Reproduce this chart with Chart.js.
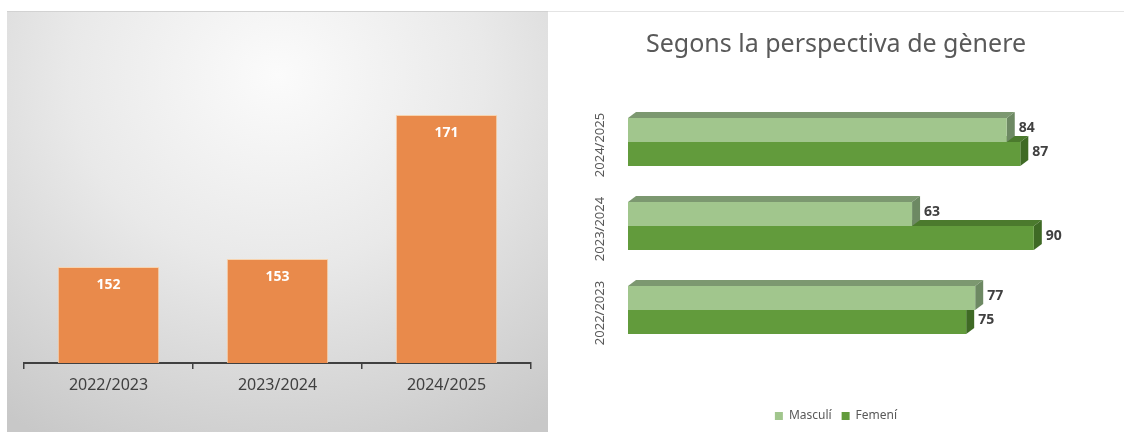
<!DOCTYPE html>
<html>
<head>
<meta charset="utf-8">
<script src="https://cdn.jsdelivr.net/npm/chart.js@4"></script>
<style>
  html, body { margin: 0; padding: 0; background: #fff; }
  #page { position: relative; width: 1124px; height: 432px; overflow: hidden; }
  #leftPanel {
    position: absolute; left: 7px; top: 11px; width: 541px; height: 421px;
    border-top: 1px solid #d2d2d2;
    background: radial-gradient(ellipse 85% 100% at 50% 15%, #fbfbfb 0%, #e9e9e9 45%, #c8c8c8 100%);
  }
  #topLine { position: absolute; left: 548px; top: 11px; width: 576px; height: 1px; background: #e4e4e4; }
  #leftChart { position: absolute; left: 0; top: 0; }
  #rightChart { position: absolute; left: 548px; top: 0; }
</style>
</head>
<body>
<div id="page">
  <div id="leftPanel"><canvas id="leftChart" width="541" height="420"></canvas></div>
  <div id="topLine"></div>
  <canvas id="rightChart" width="576" height="432"></canvas>
</div>
<script>
// Data
const categories = ['2022/2023', '2023/2024', '2024/2025'];
const totals = [152, 153, 171];
const masculi = [77, 63, 84];
const femeni = [75, 90, 87];
const seriesNames = ['Masculí', 'Femení'];
const chartTitle = 'Segons la perspectiva de gènere';

const FONT = "'Noto Sans', 'Open Sans', sans-serif";
Chart.defaults.font.family = FONT;

// Labels inside the top of the orange bars
const totalLabels = {
  id: 'totalLabels',
  afterDatasetsDraw(chart) {
    const ctx = chart.ctx;
    const meta = chart.getDatasetMeta(0);
    ctx.save();
    ctx.fillStyle = '#ffffff';
    ctx.font = 'bold 14px ' + FONT;
    ctx.textAlign = 'center';
    ctx.textBaseline = 'middle';
    meta.data.forEach((bar, i) => {
      ctx.fillText(String(chart.data.datasets[0].data[i]), bar.x, bar.y + 18);
    });
    ctx.restore();
  }
};

new Chart(document.getElementById('leftChart'), {
  type: 'bar',
  data: {
    labels: categories,
    datasets: [{
      data: totals,
      backgroundColor: '#E98A4B',
      borderColor: '#F7D4B0',
      borderWidth: 1,
      categoryPercentage: 1,
      barPercentage: 0.6
    }]
  },
  options: {
    responsive: false,
    animation: false,
    layout: { padding: { left: 17, right: 17, top: 31, bottom: 0 } },
    plugins: { legend: { display: false }, tooltip: { enabled: false } },
    scales: {
      x: {
        grid: { display: true, drawOnChartArea: false, tickLength: 6, color: '#404040', lineWidth: 1.5, offset: true },
        border: { display: true, color: '#404040', width: 2 },
        ticks: { color: '#404040', font: { size: 16 }, padding: 7 },
        afterFit(scale) { scale.height = 69; }
      },
      y: { display: false, min: 140, max: 180 }
    }
  },
  plugins: [totalLabels]
});

// 3D look for the horizontal bars: top and side faces
const depth = { dx: 8, dy: -6 };
const bar3d = {
  id: 'bar3d',
  beforeDatasetDraw(chart, args) {
    const ctx = chart.ctx;
    const ds = chart.data.datasets[args.index];
    ctx.save();
    args.meta.data.forEach(bar => {
      const p = bar.getProps(['x', 'y', 'base', 'height'], true);
      const top = p.y - p.height / 2;
      const bottom = p.y + p.height / 2;
      ctx.fillStyle = ds.topColor;
      ctx.beginPath();
      ctx.moveTo(p.base, top);
      ctx.lineTo(p.base + depth.dx, top + depth.dy);
      ctx.lineTo(p.x + depth.dx, top + depth.dy);
      ctx.lineTo(p.x, top);
      ctx.closePath();
      ctx.fill();
      ctx.fillStyle = ds.sideColor;
      ctx.beginPath();
      ctx.moveTo(p.x, top);
      ctx.lineTo(p.x + depth.dx, top + depth.dy);
      ctx.lineTo(p.x + depth.dx, bottom + depth.dy);
      ctx.lineTo(p.x, bottom);
      ctx.closePath();
      ctx.fill();
    });
    ctx.restore();
  },
  afterDatasetsDraw(chart) {
    const ctx = chart.ctx;
    ctx.save();
    ctx.fillStyle = '#404040';
    ctx.font = 'bold 14px ' + FONT;
    ctx.textAlign = 'left';
    ctx.textBaseline = 'middle';
    chart.data.datasets.forEach((ds, di) => {
      chart.getDatasetMeta(di).data.forEach((bar, i) => {
        ctx.fillText(String(ds.data[i]), bar.x + depth.dx + 4, bar.y - 2);
      });
    });
    // rotated category labels
    const yScale = chart.scales.y;
    ctx.fillStyle = '#595959';
    ctx.font = '13px ' + FONT;
    ctx.textAlign = 'center';
    chart.data.labels.forEach((lab, i) => {
      ctx.save();
      ctx.translate(52, yScale.getPixelForTick(i) + 3);
      ctx.rotate(-Math.PI / 2);
      ctx.fillText(lab, 0, 0);
      ctx.restore();
    });
    ctx.restore();
  }
};

new Chart(document.getElementById('rightChart'), {
  type: 'bar',
  data: {
    labels: categories,
    datasets: [
      { label: seriesNames[0], data: masculi, backgroundColor: '#A1C68D', topColor: '#7C9870', sideColor: '#6D8963' },
      { label: seriesNames[1], data: femeni, backgroundColor: '#629B3C', topColor: '#4B7A2D', sideColor: '#3F6A25' }
    ]
  },
  options: {
    indexAxis: 'y',
    responsive: false,
    animation: false,
    categoryPercentage: 48 / 84,
    barPercentage: 1,
    layout: { padding: 0 },
    plugins: {
      tooltip: { enabled: false },
      title: {
        display: true,
        text: chartTitle,
        color: '#595959',
        font: { size: 25, weight: 'normal' },
        padding: { top: 30, bottom: 40 }
      },
      legend: {
        position: 'bottom',
        labels: { boxWidth: 8, boxHeight: 8, color: '#595959', font: { size: 12 }, padding: 10 }
      }
    },
    scales: {
      x: {
        min: 0, max: 110,
        grid: { display: false },
        border: { display: false },
        ticks: { display: false },
        afterFit(scale) { scale.height = 48; }
      },
      y: {
        reverse: true,
        grid: { display: false },
        border: { display: false },
        ticks: { display: false },
        afterFit(scale) { scale.width = 80; }
      }
    }
  },
  plugins: [bar3d]
});
</script>
</body>
</html>
